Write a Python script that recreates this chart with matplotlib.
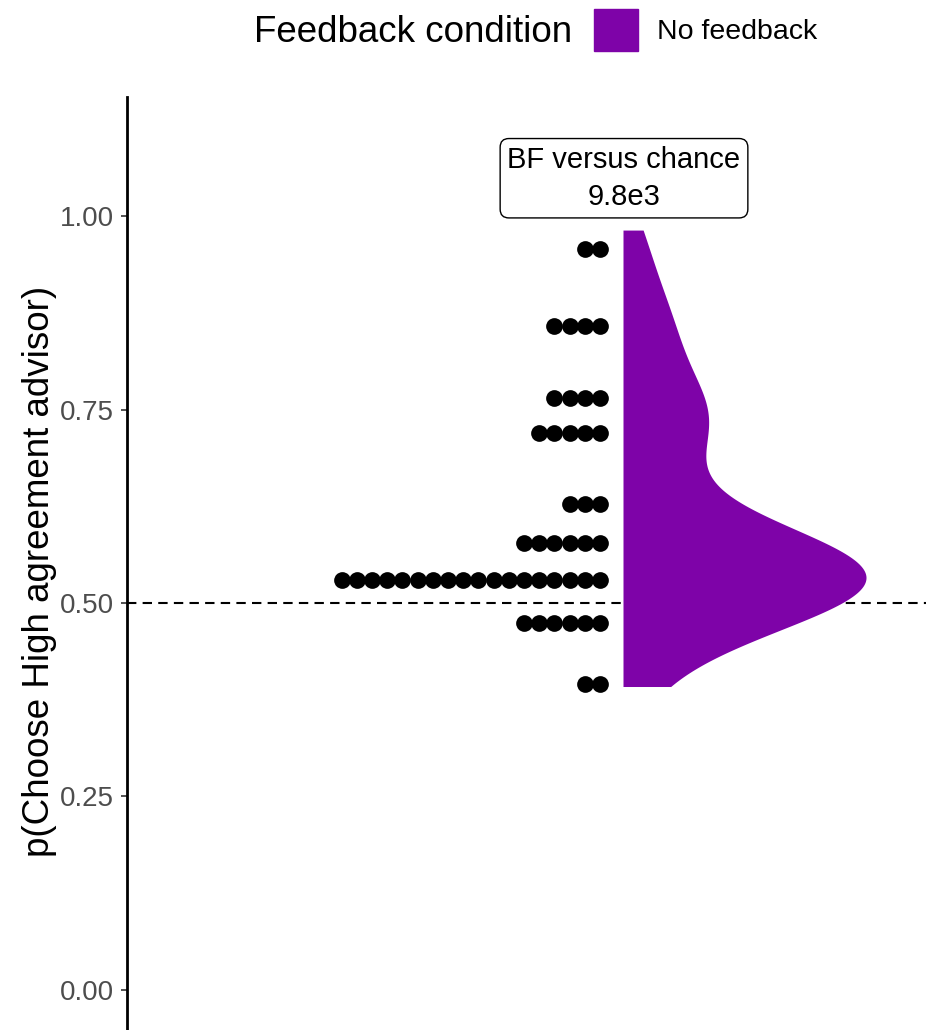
import numpy as np
import matplotlib
matplotlib.use("Agg")
from matplotlib import pyplot as plt
from matplotlib.patches import Patch

plt.rcParams['font.family'] = ['Liberation Sans', 'DejaVu Sans']

# dot rows (binned proportions) and how many participants in each
row_values = [0.395, 0.474, 0.530, 0.578, 0.628, 0.720, 0.765, 0.858, 0.957]
row_counts = [2, 6, 18, 6, 3, 5, 4, 4, 2]
data_range = [0.392, 0.982]
chance = 0.5
bf_label = "BF versus chance\n9.8e3"
legend_title = "Feedback condition"
legend_label = "No feedback"
fill_col = "#7E03A8"

vals = np.repeat(row_values, row_counts)

# gaussian kde, bw.nrd0 style
n = len(vals)
sd = vals.std(ddof=1)
iqr = np.subtract(*np.percentile(vals, [75, 25]))
bw = 0.9 * min(sd, iqr / 1.34) * n ** -0.2
grid = np.linspace(data_range[0], data_range[1], 400)
dens = np.exp(-0.5 * ((grid[:, None] - vals[None, :]) / bw) ** 2).sum(axis=1)
dens = dens / dens.max()

fig = plt.figure(figsize=(9.26, 10.30), dpi=100)
ax = fig.add_axes([127 / 926, 0, 1 - 127 / 926, 1 - 97 / 1030])

ax.set_xlim(-496, 303)
ax.set_ylim(-0.052, 1.154)

ax.axhline(chance, color="black", lw=1.5, ls=(0, (4.5, 3)), zorder=1)

ax.fill_betweenx(grid, 0, dens * 243, color=fill_col, lw=0, zorder=2)

for v, c in zip(row_values, row_counts):
    xs = -23 - 15.2 * np.arange(c)
    ax.scatter(xs, np.full(c, v), s=145, color="black", lw=0, zorder=3)

ax.text(1, 1.049, bf_label, ha="center", va="center", fontsize=21,
        linespacing=1.4,
        bbox=dict(boxstyle="round,pad=0.25,rounding_size=0.3",
                  fc="white", ec="black", lw=1))

ax.set_yticks([0, 0.25, 0.5, 0.75, 1.0])
ax.set_yticklabels(["0.00", "0.25", "0.50", "0.75", "1.00"])
ax.set_xticks([])
ax.tick_params(axis="y", labelsize=20, labelcolor="#4D4D4D", length=4.5,
               width=1.2, color="#333333", pad=5)
for s in ["top", "right", "bottom"]:
    ax.spines[s].set_visible(False)
ax.spines["left"].set_linewidth(2)
ax.set_ylabel("p(Choose High agreement advisor)", fontsize=26.5)
ax.yaxis.set_label_coords(-0.088, 0.491)

fig.text(572 / 926, 1 - 33 / 1030, legend_title, ha="right", va="center",
         fontsize=26.5)
fig.legend(handles=[Patch(color=fill_col, label=legend_label)],
           loc="center left", bbox_to_anchor=(594 / 926, 1 - 30 / 1030),
           frameon=False, fontsize=20.5, handlelength=1.53, handleheight=1.9,
           handletextpad=0.7, borderpad=0, borderaxespad=0)

plt.savefig("out.png", dpi=100)
